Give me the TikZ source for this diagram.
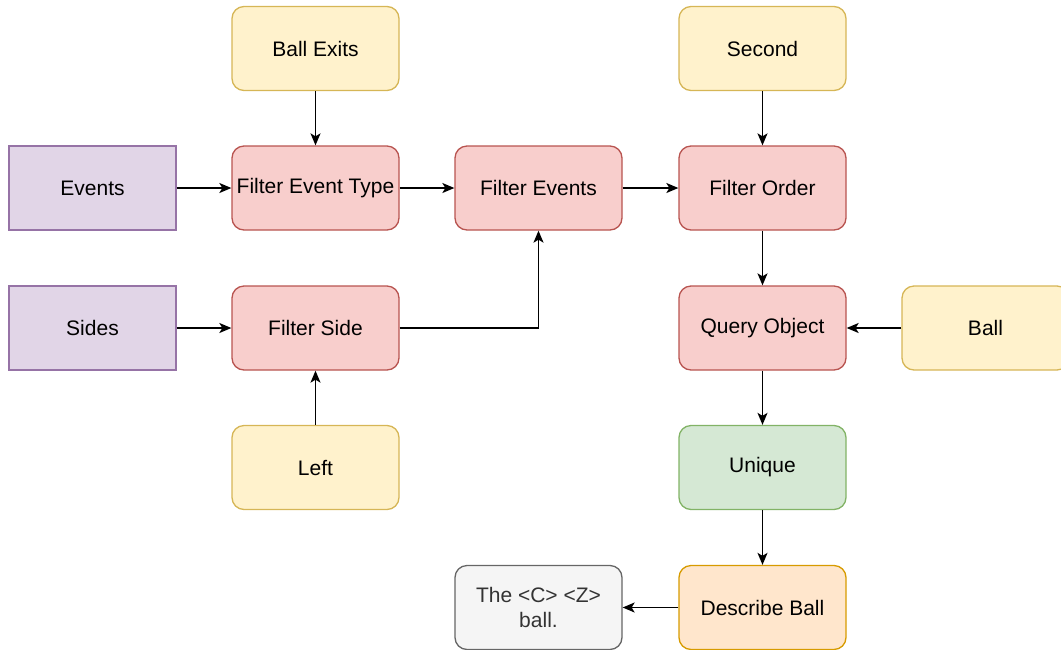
\documentclass[tikz,border=0pt]{standalone}
\usepackage{fontspec}
\setmainfont{Liberation Sans}
\usetikzlibrary{arrows.meta}
\definecolor{purpleF}{HTML}{E1D5E7}\definecolor{purpleD}{HTML}{9673A6}
\definecolor{redF}{HTML}{F8CECC}\definecolor{redD}{HTML}{B85450}
\definecolor{yelF}{HTML}{FFF2CC}\definecolor{yelD}{HTML}{D6B656}
\definecolor{grnF}{HTML}{D5E8D4}\definecolor{grnD}{HTML}{82B366}
\definecolor{orgF}{HTML}{FFE6CC}\definecolor{orgD}{HTML}{D79B00}
\definecolor{gryF}{HTML}{F5F5F5}\definecolor{gryD}{HTML}{666666}
\definecolor{gryT}{HTML}{333333}
\tikzset{
  box/.style={minimum width=167pt,minimum height=84pt,line width=1.3pt,inner sep=2pt,
    font=\fontsize{21pt}{24.5pt}\selectfont,align=center},
  rbox/.style={box,rounded corners=12pt},
  data/.style={box,fill=purpleF,draw=purpleD},
  op/.style={rbox,fill=redF,draw=redD},
  param/.style={rbox,fill=yelF,draw=yelD},
  uniq/.style={rbox,fill=grnF,draw=grnD},
  desc/.style={rbox,fill=orgF,draw=orgD},
  outbox/.style={rbox,fill=gryF,draw=gryD,text=gryT},
  link/.style={line width=1.5pt,-{Stealth[length=12pt,width=10pt,inset=3pt]}}
}
\begin{document}
\begin{tikzpicture}[x=1pt,y=-1pt]
\useasboundingbox (0,0) rectangle (1061,649);
% top row parameters
\node[param] (exits)  at (315.5,48.5) {Ball Exits};
\node[param] (second) at (762.5,48.5) {Second};
% event filtering row
\node[data] (events) at (92.5,188) {Events};
\node[op] (ftype)   at (315.5,188) {Filter Event Type};
\node[op] (fevents) at (538.5,188) {Filter Events};
\node[op] (forder)  at (762.5,188) {Filter Order};
% side filtering row
\node[data] (sides) at (92.5,328) {Sides};
\node[op] (fside)   at (315.5,328) {Filter Side};
\node[op] (query)   at (762.5,328) {Query Object};
\node[param] (ball) at (985.5,328) {Ball};
% lower rows
\node[param] (left)  at (315.5,467.5) {Left};
\node[uniq] (unique) at (762.5,467.5) {Unique};
\node[outbox] (answer) at (538.5,607.5) {The <C> <Z>\\ball.};
\node[desc] (describe) at (762.5,607.5) {Describe Ball};
% connectors
\draw[link] (exits) -- (ftype);
\draw[link] (second) -- (forder);
\draw[link] (events) -- (ftype);
\draw[link] (ftype) -- (fevents);
\draw[link] (fevents) -- (forder);
\draw[link] (sides) -- (fside);
\draw[link] (fside) -| (fevents);
\draw[link] (left) -- (fside);
\draw[link] (forder) -- (query);
\draw[link] (ball) -- (query);
\draw[link] (query) -- (unique);
\draw[link] (unique) -- (describe);
\draw[link] (describe) -- (answer);
\end{tikzpicture}
\end{document}
